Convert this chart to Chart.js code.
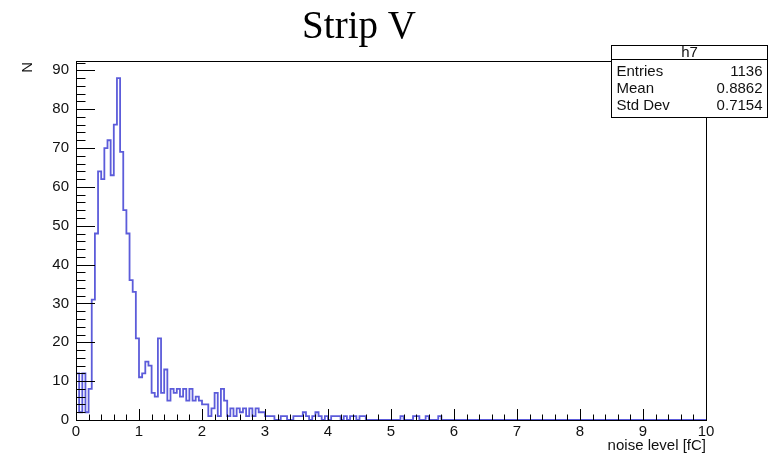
<!DOCTYPE html>
<html>
<head>
<meta charset="utf-8">
<title>Strip V</title>
<script src="https://cdn.jsdelivr.net/npm/chart.js@4/dist/chart.umd.min.js"></script>
<style>
  html, body { margin: 0; padding: 0; background: #fff; }
  canvas { display: block; }
</style>
</head>
<body>
<canvas id="h7" width="776" height="453"></canvas>
<script>
// histogram h7: 200 bins of 0.05 fC from 0 to 10
const binWidth = 0.05;
const counts = [
  12, 2, 12, 2, 8, 31, 48, 64, 62, 70, 72, 63, 76, 88, 69, 54, 48, 36, 33, 21,
  11, 12, 15, 14, 7, 6, 21, 7, 13, 5, 8, 7, 8, 6, 8, 5, 8, 5, 6, 5,
  4, 4, 1, 3, 7, 1, 8, 5, 1, 3, 1, 3, 2, 3, 1, 3, 1, 3, 2, 2,
  1, 1, 1, 0, 0, 1, 1, 0, 0, 1, 1, 1, 2, 1, 0, 1, 2, 1, 0, 1,
  0, 1, 1, 1, 0, 1, 0, 1, 1, 0, 1, 1, 0, 0, 0, 0, 0, 0, 0, 0,
  0, 0, 0, 1, 0, 0, 0, 1, 1, 0, 0, 1, 0, 0, 0, 1, 0, 0, 0, 0,
  0, 0, 0, 0, 0, 0, 0, 0, 0, 0, 0, 0, 0, 0, 0, 0, 0, 0, 0, 0,
  0, 0, 0, 0, 0, 0, 0, 0, 0, 0, 0, 0, 0, 0, 0, 0, 0, 0, 0, 0,
  0, 0, 0, 0, 0, 0, 0, 0, 0, 0, 0, 0, 0, 0, 0, 0, 0, 0, 0, 0,
  0, 0, 0, 0, 0, 0, 0, 0, 0, 0, 0, 0, 0, 0, 0, 0, 0, 0, 0, 0,
];

const xTicks = [0, 1, 2, 3, 4, 5, 6, 7, 8, 9, 10];
const yTicks = [0, 10, 20, 30, 40, 50, 60, 70, 80, 90];
const xMinorStep = 0.2;
const yMinorStep = 2;

const statsNames = ["Entries", "Mean", "Std Dev"];
const statsValues = ["1136", "0.8862", "0.7154"];

// points at the left edge of each bin, plus the right edge of the last one
const points = counts.map((c, i) => ({ x: i * binWidth, y: c }));
points.push({ x: counts.length * binWidth, y: counts[counts.length - 1] });

const sans = "'Liberation Sans', Arial, sans-serif";

const rootFrame = {
  id: "rootFrame",
  afterDraw(chart) {
    const { ctx, chartArea: a, scales } = chart;
    const sx = scales.x, sy = scales.y;
    ctx.save();
    ctx.strokeStyle = "#000";
    ctx.lineWidth = 1;

    // frame
    ctx.strokeRect(a.left + 0.5, a.top + 0.5, a.right - a.left, a.bottom - a.top);

    // x axis ticks (inward)
    ctx.beginPath();
    for (let v = 0; v <= 10 + 1e-9; v += xMinorStep) {
      const px = Math.round(sx.getPixelForValue(v)) + 0.5;
      const major = Math.abs(v - Math.round(v)) < 1e-6;
      const len = major ? 11 : 5.5;
      ctx.moveTo(px, a.bottom);
      ctx.lineTo(px, a.bottom - len);
    }
    // y axis ticks (inward)
    for (let v = 0; v <= 92; v += yMinorStep) {
      const py = Math.round(sy.getPixelForValue(v)) + 0.5;
      const len = v % 10 === 0 ? 19 : 9.5;
      ctx.moveTo(a.left, py);
      ctx.lineTo(a.left + len, py);
    }
    ctx.stroke();

    // tick labels
    ctx.fillStyle = "#111";
    ctx.font = "15px " + sans;
    ctx.textAlign = "center";
    ctx.textBaseline = "top";
    xTicks.forEach((v) => {
      ctx.fillText(String(v), sx.getPixelForValue(v), a.bottom + 4);
    });
    ctx.textAlign = "right";
    ctx.textBaseline = "middle";
    yTicks.forEach((v) => {
      ctx.fillText(String(v), a.left - 7, sy.getPixelForValue(v));
    });

    // axis titles
    ctx.textAlign = "right";
    ctx.textBaseline = "alphabetic";
    ctx.fillText("noise level [fC]", a.right, a.bottom + 30);
    ctx.save();
    ctx.translate(32, a.top + 1);
    ctx.rotate(-Math.PI / 2);
    ctx.fillText("N", 0, 0);
    ctx.restore();

    // title
    ctx.fillStyle = "#000";
    ctx.font = "39px 'Liberation Serif', 'Times New Roman', serif";
    ctx.textAlign = "center";
    ctx.fillText("Strip V", 359, 38);

    // stats box
    const bx = 611.5, by = 45.5, bw = 156, bh = 72;
    ctx.fillStyle = "#fff";
    ctx.fillRect(bx, by, bw, bh);
    ctx.strokeRect(bx, by, bw, bh);
    ctx.beginPath();
    ctx.moveTo(bx, 59.5);
    ctx.lineTo(bx + bw, 59.5);
    ctx.stroke();
    ctx.fillStyle = "#111";
    ctx.font = "15px " + sans;
    ctx.textAlign = "center";
    ctx.textBaseline = "middle";
    ctx.fillText("h7", bx + bw / 2, 53);
    statsNames.forEach((name, i) => {
      const y = 72 + i * 17;
      ctx.textAlign = "left";
      ctx.fillText(name, bx + 5, y);
      ctx.textAlign = "right";
      ctx.fillText(statsValues[i], bx + bw - 5, y);
    });
    ctx.restore();
  },
};

new Chart(document.getElementById("h7"), {
  type: "line",
  data: {
    datasets: [
      {
        label: "h7",
        data: points,
        stepped: true,
        borderColor: "rgb(92, 92, 218)",
        borderWidth: 1.8,
        pointRadius: 0,
        fill: false,
        tension: 0,
      },
    ],
  },
  options: {
    responsive: false,
    animation: false,
    devicePixelRatio: 1,
    layout: { padding: { left: 76, top: 61, right: 70, bottom: 33 } },
    scales: {
      x: { type: "linear", min: 0, max: 10, display: false },
      y: { type: "linear", min: 0, max: 92.4, display: false },
    },
    plugins: {
      legend: { display: false },
      tooltip: { enabled: false },
    },
  },
  plugins: [rootFrame],
});
</script>
</body>
</html>
